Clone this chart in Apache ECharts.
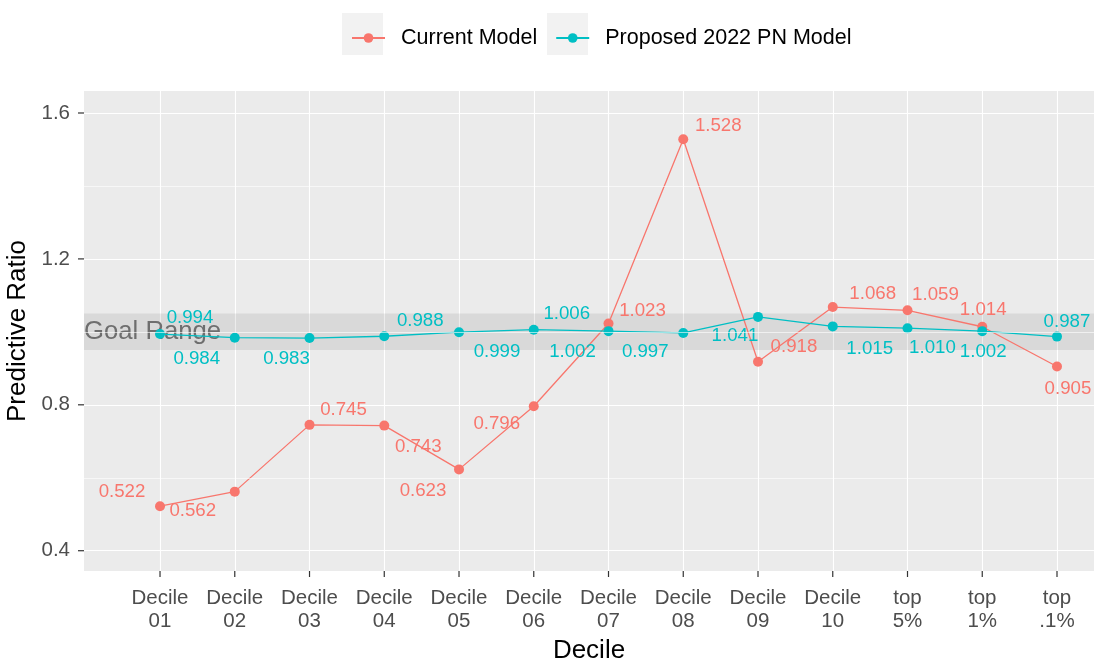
<!DOCTYPE html>
<html>
<head>
<meta charset="utf-8">
<script src="https://cdn.jsdelivr.net/npm/echarts@6/dist/echarts.min.js"></script>
<style>
  html, body { margin: 0; padding: 0; background: #fff; }
  #chart { width: 1094px; height: 660px; }
</style>
</head>
<body>
<div id="chart"></div>
<script>
const categories = ['Decile\n01', 'Decile\n02', 'Decile\n03', 'Decile\n04', 'Decile\n05', 'Decile\n06',
    'Decile\n07', 'Decile\n08', 'Decile\n09', 'Decile\n10', 'top\n5%', 'top\n1%', 'top\n.1%'];
const currentModel = [0.522, 0.562, 0.745, 0.743, 0.623, 0.796, 1.023, 1.528, 0.918, 1.068, 1.059, 1.014, 0.905];
const proposedModel = [0.994, 0.984, 0.983, 0.988, 0.999, 1.006, 1.002, 0.997, 1.041, 1.015, 1.010, 1.002, 0.987];
const yMajorTicks = [0.4, 0.8, 1.2, 1.6];
const yMinorTicks = [0.6, 1.0, 1.4];
const goalRange = [0.95, 1.05];

// label nudges (px), like the repelled labels in the original
const currentOffsets = [[-38, -14], [-42, 19], [34, -15], [34, 21], [-36, 21], [-37, 18], [34, -13],
    [35, -13], [36, -15], [40, -13], [28, -15], [1, -17], [11, 22]];
const proposedOffsets = [[30, -16], [-38, 21], [-23, 21], [36, -15], [38, 20], [33, -16], [-36, 21],
    [-38, 19], [-23, 19], [37, 22], [25, 20], [1, 21], [10, -15]];

const RED = '#F8766D';
const TEAL = '#00BFC4';
const FONT = '"Liberation Sans", Arial, sans-serif';
const X_MIN = -1.017, X_MAX = 12.495;
const Y_MIN = 0.3444, Y_MAX = 1.6603;
const xTicks = categories.map((c, i) => i);

function buildData(values, offsets) {
    return values.map((v, i) => ({
        value: [i, v],
        label: { offset: offsets[i] }
    }));
}

// small outward tick marks, placed through the axes' own scales
function tickSeries(data, dx, dy) {
    return {
        type: 'custom',
        silent: true,
        clip: false,
        z: 5,
        data: data,
        renderItem: (params, api) => {
            const p = api.coord([api.value(0), api.value(1)]);
            return {
                type: 'line',
                shape: { x1: p[0], y1: p[1], x2: p[0] + dx, y2: p[1] + dy },
                style: { stroke: '#333', lineWidth: 1.2 }
            };
        }
    };
}

const chart = echarts.init(document.getElementById('chart'));

chart.setOption({
    animation: false,
    backgroundColor: '#fff',
    grid: {
        left: 84,
        right: 0,
        top: 91,
        bottom: 89,
        outerBoundsMode: 'none',
        show: true,
        backgroundColor: '#EBEBEB',
        borderWidth: 0
    },
    graphic: [
        { type: 'rect', left: 342, top: 13, shape: { width: 41, height: 42 }, style: { fill: '#F2F2F2' }, z: -1 },
        { type: 'rect', left: 547, top: 13, shape: { width: 41, height: 42 }, style: { fill: '#F2F2F2' }, z: -1 }
    ],
    legend: {
        data: ['Current Model', 'Proposed 2022 PN Model'],
        left: 346,
        top: 22,
        itemWidth: 33,
        itemHeight: 12,
        itemGap: 18,
        textStyle: {
            fontSize: 21.5,
            color: '#000',
            fontFamily: FONT,
            padding: [0, 0, 0, 11]
        }
    },
    xAxis: {
        type: 'value',
        min: X_MIN,
        max: X_MAX,
        name: 'Decile',
        nameLocation: 'middle',
        nameGap: 67,
        nameTextStyle: { fontSize: 26, color: '#000', fontFamily: FONT },
        axisLine: { show: false, onZero: false },
        axisTick: { show: false, customValues: xTicks },
        axisLabel: {
            customValues: xTicks,
            margin: 16,
            fontSize: 20.5,
            lineHeight: 23,
            color: '#4D4D4D',
            fontFamily: FONT,
            formatter: v => categories[Math.round(v)] || ''
        },
        splitLine: {
            show: true,
            lineStyle: { color: '#fff', width: 1.1 }
        }
    },
    yAxis: {
        type: 'value',
        min: Y_MIN,
        max: Y_MAX,
        name: 'Predictive Ratio',
        nameLocation: 'middle',
        nameGap: 47,
        nameTextStyle: { fontSize: 26, color: '#000', fontFamily: FONT },
        axisLine: { show: false, onZero: false },
        axisTick: { show: false, customValues: yMajorTicks },
        axisLabel: {
            customValues: yMajorTicks,
            margin: 14,
            fontSize: 20.5,
            color: '#4D4D4D',
            fontFamily: FONT,
            formatter: v => v.toFixed(1)
        },
        splitLine: {
            show: true,
            lineStyle: { color: '#fff', width: 1.1 }
        }
    },
    series: [
        {
            // minor y grid lines (ggplot style)
            name: 'minor',
            type: 'line',
            data: [],
            silent: true,
            z: 1,
            markLine: {
                silent: true,
                symbol: 'none',
                label: { show: false },
                lineStyle: { color: '#fff', width: 0.6, type: 'solid' },
                data: yMinorTicks.map(v => ({ yAxis: v }))
            }
        },
        tickSeries(xTicks.map(v => [v, Y_MIN]), 0, 6),
        tickSeries(yMajorTicks.map(v => [X_MIN, v]), -6, 0),
        {
            name: 'Current Model',
            type: 'line',
            data: buildData(currentModel, currentOffsets),
            symbol: 'circle',
            symbolSize: 10,
            itemStyle: { color: RED },
            lineStyle: { color: RED, width: 1.3 },
            label: {
                show: true,
                position: 'inside',
                align: 'center',
                verticalAlign: 'middle',
                color: RED,
                fontSize: 18.7,
                fontFamily: FONT,
                formatter: p => p.value[1].toFixed(3)
            },
            markArea: {
                silent: true,
                itemStyle: { color: 'rgba(0,0,0,0.075)' },
                label: {
                    show: true,
                    position: 'insideLeft',
                    distance: 0,
                    color: 'rgba(90,90,90,0.85)',
                    fontSize: 25.7,
                    fontFamily: FONT
                },
                data: [[{ name: 'Goal Range', yAxis: goalRange[0] }, { yAxis: goalRange[1] }]]
            },
            z: 2
        },
        {
            name: 'Proposed 2022 PN Model',
            type: 'line',
            data: buildData(proposedModel, proposedOffsets),
            symbol: 'circle',
            symbolSize: 10,
            itemStyle: { color: TEAL },
            lineStyle: { color: TEAL, width: 1.3 },
            label: {
                show: true,
                position: 'inside',
                align: 'center',
                verticalAlign: 'middle',
                color: TEAL,
                fontSize: 18.7,
                fontFamily: FONT,
                formatter: p => p.value[1].toFixed(3)
            },
            z: 3
        }
    ]
});
</script>
</body>
</html>
